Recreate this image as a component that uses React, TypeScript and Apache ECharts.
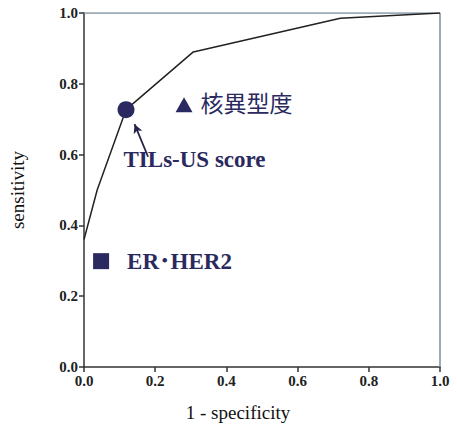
import React, { useEffect, useRef } from "react";
import * as echarts from "echarts";

// ROC curve (1 - specificity, sensitivity)
const rocX = [0, 0.037, 0.118, 0.307, 0.72, 1.0];
const rocY = [0.36, 0.5, 0.727, 0.89, 0.985, 1.0];

// single markers
const tilsPoint = [0.118, 0.727];
const nuclearPoint = [0.281, 0.741];
const erHer2Point = [0.048, 0.299];

const tilsLabel = "TILs-US score";
const nuclearLabel = "核異型度";
const erHer2Label = "ER･HER2";

const arrowFrom = [0.18, 0.594];
const arrowTo = [0.142, 0.686];

const NAVY = "#2a2960";
const SERIF = "'Liberation Serif', 'Times New Roman', 'Noto Sans CJK JP', serif";

export default function App() {
  const ref = useRef<HTMLDivElement>(null);
  useEffect(() => {
    if (!ref.current) return;
    const chart = echarts.init(ref.current, undefined, { renderer: "svg" });
    const axisCommon = {
      type: "value" as const,
      min: 0,
      max: 1,
      interval: 0.2,
      splitLine: { show: false },
      axisLine: { show: true, onZero: false, lineStyle: { color: "#333", width: 1.5 } },
      axisTick: { show: true, inside: false, length: 5, lineStyle: { color: "#333", width: 1.5 } },
      axisLabel: {
        color: "#222",
        fontFamily: SERIF,
        fontWeight: "bold" as const,
        fontSize: 15,
        margin: 6,
        formatter: (v: number) => v.toFixed(1),
      },
    };
    chart.setOption({
      animation: false,
      backgroundColor: "#fff",
      grid: { left: 84, right: 17, top: 13, bottom: 58, show: false },
      xAxis: {
        ...axisCommon,
        name: "1 - specificity",
        nameLocation: "middle",
        nameGap: 36,
        nameTextStyle: {
          fontFamily: SERIF,
          fontSize: 19,
          color: "#111",
          padding: [0, 48, 0, 0],
        },
      },
      yAxis: {
        ...axisCommon,
        name: "sensitivity",
        nameLocation: "middle",
        nameGap: 57,
        nameTextStyle: { fontFamily: SERIF, fontSize: 19, color: "#111" },
      },
      series: [
        {
          type: "line",
          data: rocX.map((x, i) => [x, rocY[i]]),
          symbol: "none",
          lineStyle: { color: "#222", width: 1.5 },
          z: 2,
        },
        {
          // frame top/right
          type: "line",
          data: [
            [0, 1],
            [1, 1],
            [1, 0],
          ],
          symbol: "none",
          lineStyle: { color: "#7f8e9c", width: 1.5 },
          z: 1,
          silent: true,
        },
        {
          type: "scatter",
          data: [tilsPoint],
          symbol: "circle",
          symbolSize: 17,
          itemStyle: { color: NAVY, opacity: 1 },
          label: {
            show: true,
            formatter: tilsLabel,
            position: [6, 58],
            align: "left",
            verticalAlign: "middle",
            fontFamily: SERIF,
            fontWeight: "bold",
            fontSize: 23,
            color: NAVY,
            opacity: 1,
          },
          markLine: {
            silent: true,
            symbol: ["none", "arrow"],
            symbolSize: [7, 9],
            label: { show: false },
            lineStyle: { color: "#24234a", width: 1.8, type: "solid", opacity: 1 },
            data: [[{ coord: arrowFrom }, { coord: arrowTo }]],
          },
          z: 3,
        },
        {
          type: "scatter",
          data: [nuclearPoint],
          symbol: "triangle",
          symbolSize: [17, 15],
          itemStyle: { color: NAVY, opacity: 1 },
          label: {
            show: true,
            formatter: nuclearLabel,
            position: "right",
            distance: 8,
            fontFamily: SERIF,
            fontSize: 23,
            color: NAVY,
            opacity: 1,
          },
          z: 3,
        },
        {
          type: "scatter",
          data: [erHer2Point],
          symbol: "rect",
          symbolSize: 16,
          itemStyle: { color: NAVY, opacity: 1 },
          label: {
            show: true,
            formatter: erHer2Label,
            position: "right",
            distance: 18,
            fontFamily: SERIF,
            fontWeight: "bold",
            fontSize: 23,
            color: NAVY,
            opacity: 1,
          },
          z: 3,
        },
      ],
    });
    return () => chart.dispose();
  }, []);
  return <div ref={ref} style={{ width: 457, height: 427, position: "absolute", left: 0, top: 0 }} />;
}
